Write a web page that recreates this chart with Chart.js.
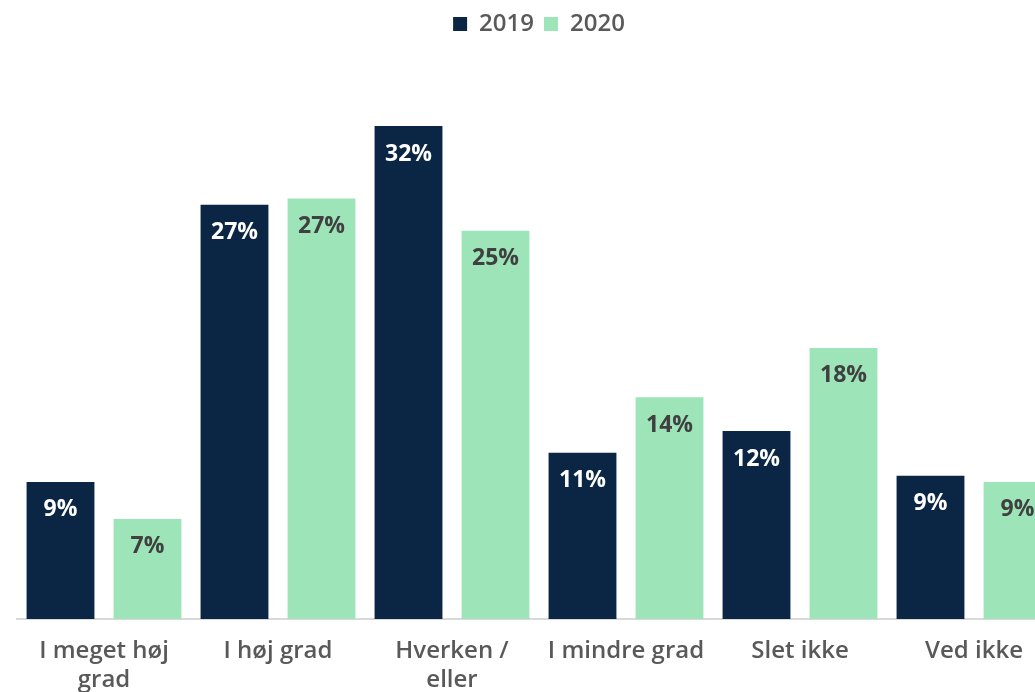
<!DOCTYPE html>
<html>
<head>
<meta charset="utf-8">
<script src="https://cdn.jsdelivr.net/npm/chart.js@4/dist/chart.umd.min.js"></script>
<style>
  html, body { margin: 0; padding: 0; background: #fff; overflow: hidden; }
  #wrap { position: absolute; left: 0; top: 0; width: 1080px; height: 692px; }
</style>
</head>
<body>
<div id="wrap"><canvas id="chart"></canvas></div>
<script>
const categories = [["I meget høj", "grad"], "I høj grad", ["Hverken /", "eller"], "I mindre grad", "Slet ikke", "Ved ikke"];
const values2019 = [8.9, 26.9, 32.0, 10.8, 12.2, 9.3];
const values2020 = [6.5, 27.3, 25.2, 14.4, 17.6, 8.9];

const font = "'Open Sans', sans-serif";

// skriver procenterne inde i toppen af søjlerne
const barLabels = {
  id: "barLabels",
  afterDatasetsDraw(chart) {
    const ctx = chart.ctx;
    ctx.save();
    ctx.font = "bold 23px " + font;
    ctx.textAlign = "center";
    ctx.textBaseline = "middle";
    chart.data.datasets.forEach((ds, i) => {
      chart.getDatasetMeta(i).data.forEach((bar, j) => {
        ctx.fillStyle = i === 0 ? "#ffffff" : "#404040";
        ctx.fillText(Math.round(ds.data[j]) + "%", bar.x, bar.y + 28);
      });
    });
    ctx.restore();
  }
};

new Chart(document.getElementById("chart"), {
  type: "bar",
  data: {
    labels: categories,
    datasets: [
      { label: "2019", data: values2019, backgroundColor: "#0a2644" },
      { label: "2020", data: values2020, backgroundColor: "#9de5b9" }
    ]
  },
  options: {
    responsive: true,
    maintainAspectRatio: false,
    animation: false,
    layout: { padding: { left: 17, right: 19, top: 2, bottom: 0 } },
    datasets: { bar: { categoryPercentage: 1.0, barPercentage: 0.78 } },
    plugins: {
      legend: {
        position: "top",
        labels: {
          color: "#595959",
          font: { family: font, size: 24, weight: "600" },
          boxWidth: 14,
          boxHeight: 14,
          padding: 10
        }
      },
      tooltip: { enabled: false }
    },
    scales: {
      x: {
        afterFit: (scale) => { scale.height = 73; },
        grid: { display: false, drawTicks: false },
        border: { display: true, color: "#d9d9d9", width: 2 },
        ticks: {
          color: "#595959",
          font: { family: font, size: 24, weight: "600", lineHeight: 1.2 },
          maxRotation: 0,
          autoSkip: false,
          padding: 18
        }
      },
      y: {
        display: false,
        min: 0,
        max: 37.2
      }
    }
  },
  plugins: [barLabels]
});
</script>
</body>
</html>
